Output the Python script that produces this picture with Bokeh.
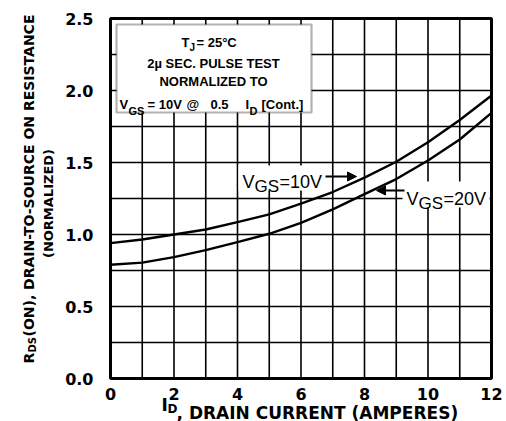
import math
from bokeh.plotting import figure
from bokeh.models import (Range1d, FixedTicker, Label, BoxAnnotation, Arrow,
                          NormalHead, ColumnDataSource, LinearAxis)
from bokeh.embed import file_html
from bokeh.resources import INLINE

# ---- data ----
drain_current = [0, 1, 2, 3, 4, 5, 6, 7, 8, 9, 10, 11, 12]
rds_vgs10 = [0.94, 0.965, 1.0, 1.035, 1.086, 1.14, 1.215, 1.295, 1.395, 1.505, 1.64, 1.795, 1.965]
rds_vgs20 = [0.79, 0.805, 0.843, 0.891, 0.947, 1.005, 1.081, 1.175, 1.28, 1.385, 1.514, 1.66, 1.845]
x_ticks = [0, 2, 4, 6, 8, 10, 12]
y_ticks = [0.0, 0.5, 1.0, 1.5, 2.0, 2.5]
y_tick_labels = ["0.0", "0.5", "1.0", "1.5", "2.0", "2.5"]
x_grid = [1, 2, 3, 4, 5, 6, 7, 8, 9, 10, 11]
y_grid = [0.25, 0.5, 0.75, 1.0, 1.25, 1.5, 1.75, 2.0, 2.25]
x_limits = [0, 12]
y_limits = [0, 2.5]

LAB = "Liberation Sans"
BIG = "DejaVu Sans"

W, H = 506, 421
# chart box sits at canvas x 110..491, y 18..378
PX_PER_X = 31.75
PX_PER_Y = 144.0


def dx(px):
    return (px - 110) / PX_PER_X


def dy(py):
    return (378 - py) / PX_PER_Y


p = figure(width=W, height=H, output_backend="svg", toolbar_location=None,
           x_range=Range1d(dx(0), dx(W)), y_range=Range1d(dy(H), dy(0)),
           x_axis_type=None, y_axis_type=None, min_border=0)
p.background_fill_color = "white"
p.border_fill_color = "white"
p.outline_line_color = None
p.grid.visible = False

# axes fixed to the chart box edges
xax = LinearAxis(fixed_location=0, ticker=FixedTicker(ticks=x_ticks))
yax = LinearAxis(fixed_location=0, ticker=FixedTicker(ticks=y_ticks))
yax.major_label_overrides = {t: s for t, s in zip(y_ticks, y_tick_labels)}
for ax in (xax, yax):
    ax.axis_line_color = None
    ax.major_tick_line_color = None
    ax.minor_tick_line_color = None
    ax.major_label_text_font = BIG
    ax.major_label_text_font_style = "bold"
    ax.major_label_text_font_size = "16px"
    ax.major_label_text_color = "black"
xax.major_label_standoff = 3
yax.major_label_standoff = 11
p.add_layout(xax, "below")
p.add_layout(yax, "left")

# grid lines (inside chart box only)
p.segment(x0=x_grid, y0=[y_limits[0]] * len(x_grid), x1=x_grid, y1=[y_limits[1]] * len(x_grid),
          line_color="black", line_width=1.6)
p.segment(x0=[x_limits[0]] * len(y_grid), y0=y_grid, x1=[x_limits[1]] * len(y_grid), y1=y_grid,
          line_color="black", line_width=1.6)

# curves
src = ColumnDataSource(dict(x=drain_current, a=rds_vgs10, b=rds_vgs20))
p.line("x", "a", source=src, line_color="black", line_width=2.4, line_join="round")
p.line("x", "b", source=src, line_color="black", line_width=2.4, line_join="round")

# chart frame
p.quad(left=[x_limits[0]], right=[x_limits[1]], bottom=[y_limits[0]], top=[y_limits[1]],
       fill_color=None, line_color="black", line_width=3)


def lab(text, px, py, size, font=LAB, bold=True, align="left", angle=0.0):
    p.add_layout(Label(x=dx(px), y=dy(py), text=text, text_font=font,
                       text_font_size=f"{size}px",
                       text_font_style="bold" if bold else "normal",
                       text_color="black", text_align=align,
                       text_baseline="alphabetic", angle=angle))


# condition box
p.add_layout(BoxAnnotation(left=dx(116), right=dx(311), top=dy(24), bottom=dy(112),
                           fill_color="white", fill_alpha=1.0,
                           line_color="black", line_width=2.2))
lab("T", 181, 42, 13)
lab("J", 189, 47, 10)
lab("= 25°C", 196, 42, 13)
lab("2µ SEC. PULSE TEST", 213, 63, 13, align="center")
lab("NORMALIZED TO", 213, 81, 13, align="center")
lab("V", 119, 104, 13)
lab("GS", 128, 110, 11)
lab("= 10V", 147, 104, 13)
lab("@", 186, 104, 13)
lab("0.5", 210, 104, 13)
lab("I", 245, 104, 13)
lab("D", 249, 110, 11)
lab("[Cont.]", 261, 104, 13)

# curve labels with white background
p.add_layout(BoxAnnotation(left=dx(238), right=dx(324), top=dy(165), bottom=dy(190),
                           fill_color="white", fill_alpha=1.0, line_color=None))
p.add_layout(BoxAnnotation(left=dx(402), right=dx(489), top=dy(181), bottom=dy(207),
                           fill_color="white", fill_alpha=1.0, line_color=None))
lab("V", 242, 181, 18, bold=False)
lab("GS", 254, 186, 17, bold=False)
lab("=10V", 279, 181, 18, bold=False)
lab("V", 406, 198, 18, bold=False)
lab("GS", 418, 203, 17, bold=False)
lab("=20V", 443, 198, 18, bold=False)

p.add_layout(Arrow(x_start=dx(325), y_start=dy(176), x_end=dx(356), y_end=dy(176),
                   line_color="black", line_width=1.8,
                   end=NormalHead(size=9, fill_color="black", line_color="black")))
p.add_layout(Arrow(x_start=dx(404), y_start=dy(190), x_end=dx(376), y_end=dy(190),
                   line_color="black", line_width=1.8,
                   end=NormalHead(size=9, fill_color="black", line_color="black")))

# axis titles
lab("I", 161, 404, 17, font=BIG)
lab("D", 167, 408, 12, font=BIG)
lab(", DRAIN CURRENT (AMPERES)", 176, 412, 17, font=BIG)

rot = math.pi / 2
lab("R", 28, 363, 14, font=BIG, angle=rot)
lab("DS", 32, 352, 10, font=BIG, angle=rot)
lab("(ON), DRAIN-TO-SOURCE ON RESISTANCE", 28, 336, 14, font=BIG, angle=rot)
lab("(NORMALIZED)", 48, 203, 13, font=BIG, align="center", angle=rot)

open("out.html", "w").write(file_html(p, INLINE))
